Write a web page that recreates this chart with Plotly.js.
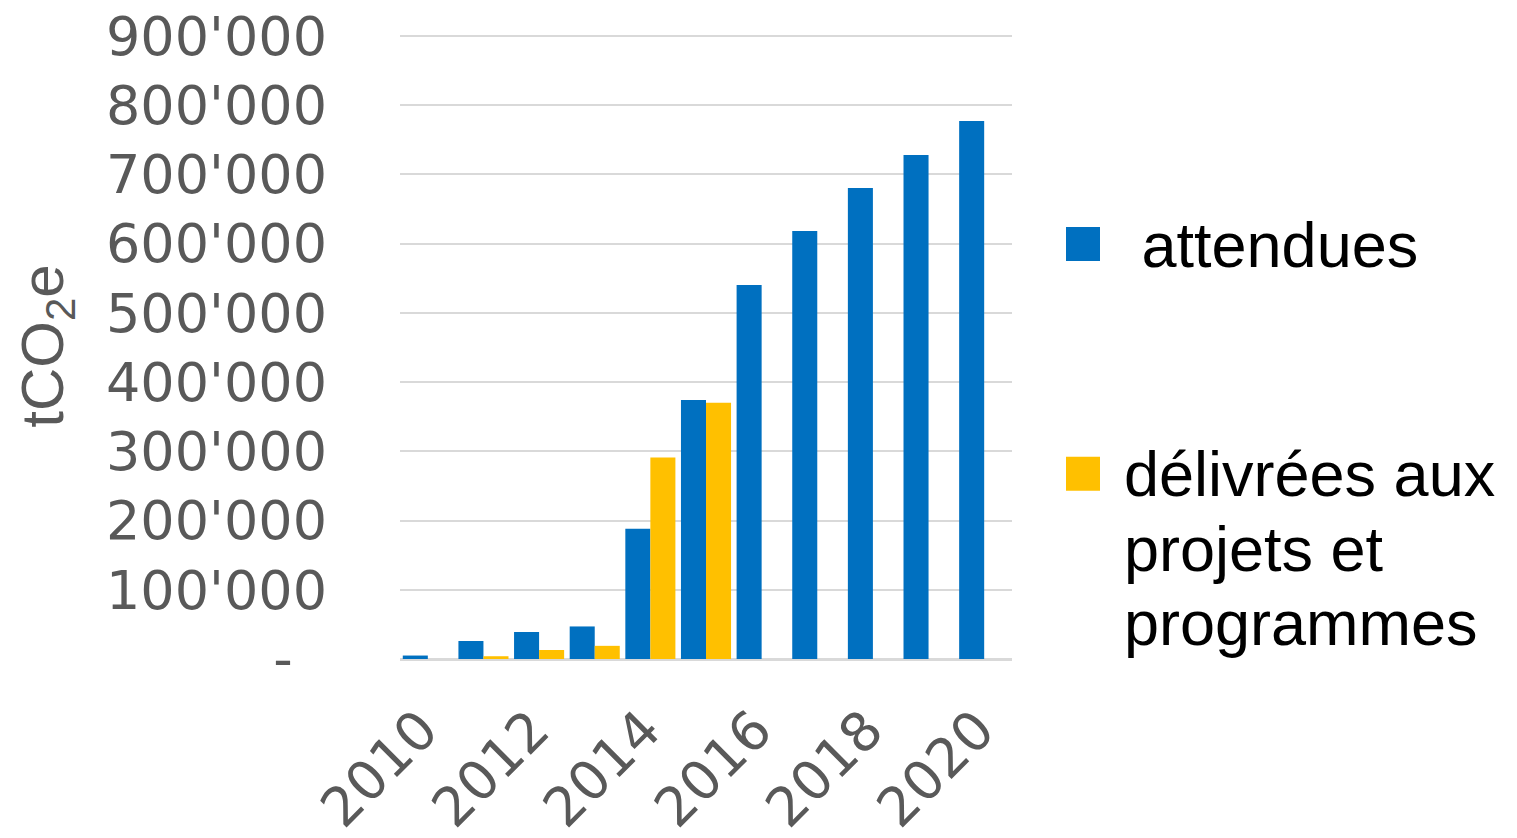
<!DOCTYPE html>
<html>
<head>
<meta charset="utf-8">
<script src="https://cdn.plot.ly/plotly-3.0.1.min.js"></script>
<style>
html,body{margin:0;padding:0;background:#fff;}
#chart{width:1517px;height:838px;}
</style>
</head>
<body>
<div id="chart"></div>
<script>
var years = [2010, 2011, 2012, 2013, 2014, 2015, 2016, 2017, 2018, 2019, 2020];
var attendues = [5000, 26000, 39000, 47000, 188000, 374000, 540000, 618000, 680000, 728000, 777000];
var delivrees = [0, 4000, 13000, 19000, 291000, 370000, null, null, null, null, null];
var seriesNames = ['\u00a0attendues', 'délivrées aux<br>projets et<br>programmes'];
var yTickVals = [0, 100000, 200000, 300000, 400000, 500000, 600000, 700000, 800000, 900000];
var yTickText = ['-\u00a0\u00a0', "100'000", "200'000", "300'000", "400'000", "500'000", "600'000", "700'000", "800'000", "900'000"];
var xTickVals = [2010, 2012, 2014, 2016, 2018, 2020];
var xTickText = ['2010', '2012', '2014', '2016', '2018', '2020'];

var traces = [
  {type: 'bar', x: years, y: attendues, name: seriesNames[0], legendgroup: 'a',
   marker: {color: '#0070C0'}},
  {type: 'bar', x: years, y: delivrees, name: seriesNames[1], legendgroup: 'b',
   marker: {color: '#FFC000'}}
];

var tickFamily = 'DejaVu Sans, Liberation Sans, sans-serif';

var layout = {
  width: 1517, height: 838,
  margin: {l: 400, r: 505, t: 33, b: 179},
  paper_bgcolor: '#ffffff', plot_bgcolor: '#ffffff',
  font: {family: 'Liberation Sans, Arial, sans-serif', color: '#595959'},
  barmode: 'group', bargap: 0.1, bargroupgap: 0,
  showlegend: true,
  legend: {
    x: 1.1176, xanchor: 'left', y: 0.742, yanchor: 'top',
    font: {size: 63, color: '#000000', family: 'Liberation Sans, Arial, sans-serif'},
    traceorder: 'grouped', tracegroupgap: 145, valign: 'top',
    bgcolor: 'rgba(0,0,0,0)'
  },
  xaxis: {
    range: [2009.5, 2020.5],
    tickmode: 'array', tickvals: xTickVals, ticktext: xTickText,
    tickangle: -45, tickfont: {size: 54, color: '#595959', family: tickFamily},
    ticklabelstandoff: 27, ticklabelshift: -6,
    showgrid: false, zeroline: false, showline: false, ticks: '',
    automargin: false
  },
  yaxis: {
    range: [0, 904000],
    tickmode: 'array', tickvals: yTickVals, ticktext: yTickText,
    tickfont: {size: 54, color: '#595959', family: tickFamily},
    showgrid: true, gridcolor: '#d9d9d9', gridwidth: 2,
    zeroline: true, zerolinecolor: '#d9d9d9', zerolinewidth: 3,
    showline: false, ticks: '', ticklabelstandoff: 72,
    automargin: false,
    title: {text: 'tCO<sub>2</sub>e', font: {size: 60, color: '#595959'}, standoff: 23}
  }
};

Plotly.newPlot('chart', traces, layout, {staticPlot: true}).then(function (gd) {
  gd.querySelectorAll('.legend [clip-path]').forEach(function (e) {
    e.removeAttribute('clip-path');
  });
  gd.querySelectorAll('.legend .traces').forEach(function (tr) {
    tr.querySelectorAll('.legendpoints path').forEach(function (p) {
      var d = p.getAttribute('d');
      if (!d) return;
      var ctm = p.getScreenCTM();
      var lx = (1083 - ctm.e) / ctm.a;
      p.setAttribute('d', 'M' + (lx - 17) + ',-15h34v34h-34Z');
    });
    tr.querySelectorAll('text.legendtext tspan.line').forEach(function (t, i) {
      t.setAttribute('dy', (i * 1.18) + 'em');
    });
  });
});
</script>
</body>
</html>
